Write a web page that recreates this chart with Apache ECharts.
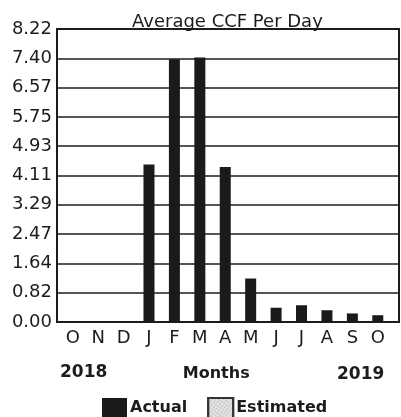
<!DOCTYPE html>
<html>
<head>
<meta charset="utf-8">
<script src="https://cdn.jsdelivr.net/npm/echarts@6/dist/echarts.min.js"></script>
<style>
html,body{margin:0;padding:0;background:#fff;}
#chart{width:401px;height:417px;}
</style>
</head>
<body>
<div id="chart"></div>
<script>
// Data
var months = ['O','N','D','J','F','M','A','M','J','J','A','S','O'];
var actual = [0, 0, 0, 4.42, 7.37, 7.42, 4.35, 1.22, 0.40, 0.47, 0.33, 0.24, 0.19];
var estimated = [null, null, null, null, null, null, null, null, null, null, null, null, null];
var yTickLabels = ['0.00','0.82','1.64','2.47','3.29','4.11','4.93','5.75','6.57','7.40','8.22'];
var yearLabels = ['2018', '2019'];
var titleText = 'Average CCF Per Day';
var axisName = 'Months';
var seriesNames = ['Actual', 'Estimated'];

var yMax = 8.22;
var yStep = 0.822;
var FONT = 'DejaVu Sans';
var INK = '#1c1c1c';

var chart = echarts.init(document.getElementById('chart'), null, {renderer: 'canvas'});
chart.setOption({
  animation: false,
  backgroundColor: '#ffffff',
  title: {
    text: titleText,
    left: 127,
    top: 8,
    textStyle: {fontFamily: FONT, fontSize: 18, fontWeight: 'normal', color: INK}
  },
  legend: {
    left: 97,
    top: 392,
    itemWidth: 25,
    itemHeight: 20,
    itemGap: 20,
    icon: 'rect',
    data: seriesNames,
    textStyle: {fontFamily: FONT, fontSize: 16, fontWeight: 'bold', color: INK, padding: [0, 0, 0, -2]}
  },
  grid: [
    {left: 57, right: 2, top: 29, bottom: 95, show: true, borderColor: INK, borderWidth: 2, backgroundColor: 'transparent'},
    {left: 60, right: 10.5, top: 29, bottom: 95}
  ],
  xAxis: [
    {gridIndex: 0, type: 'value', show: false, min: 0, max: 1},
    {
      gridIndex: 1, type: 'category', data: months,
      axisLine: {show: false}, axisTick: {show: false},
      axisLabel: {fontFamily: FONT, fontSize: 18, color: INK, margin: 7, interval: 0},
      name: axisName, nameLocation: 'middle', nameGap: 44,
      nameTextStyle: {fontFamily: FONT, fontSize: 16, fontWeight: 'bold', color: INK, padding: [0, 0, 0, -18]}
    }
  ],
  yAxis: [
    {
      gridIndex: 0, type: 'value', min: 0, max: yMax, interval: yStep,
      axisLine: {show: false}, axisTick: {show: false},
      splitLine: {show: true, lineStyle: {color: INK, width: 1.6}},
      axisLabel: {
        fontFamily: FONT, fontSize: 18, color: INK, margin: 5,
        formatter: function (v) { return yTickLabels[Math.round(v / yStep)]; }
      }
    },
    {gridIndex: 1, type: 'value', min: 0, max: yMax, show: false}
  ],
  graphic: [
    {type: 'text', left: 60, top: 364, style: {text: yearLabels[0], font: 'bold 17px "DejaVu Sans"', fill: INK}},
    {type: 'text', left: 337, top: 366, style: {text: yearLabels[1], font: 'bold 17px "DejaVu Sans"', fill: INK}}
  ],
  series: [
    {
      name: seriesNames[0], type: 'bar', xAxisIndex: 1, yAxisIndex: 1,
      data: actual, barWidth: 11,
      itemStyle: {color: '#1a1a1a'}
    },
    {
      name: seriesNames[1], type: 'bar', xAxisIndex: 1, yAxisIndex: 1,
      data: estimated, barWidth: 11, barGap: '-100%',
      itemStyle: {
        color: '#e6e6e6', borderColor: '#333', borderWidth: 1,
        decal: {symbol: 'circle', symbolSize: 0.6, color: 'rgba(60,60,60,0.7)', dashArrayX: [2, 1], dashArrayY: [2, 1], rotation: 0.6}
      }
    }
  ]
});
</script>
</body>
</html>
